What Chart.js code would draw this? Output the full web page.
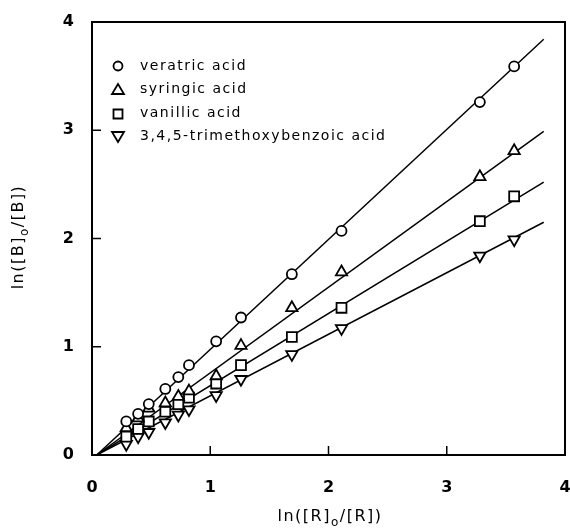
<!DOCTYPE html>
<html>
<head>
<meta charset="utf-8">
<script src="https://cdn.jsdelivr.net/npm/chart.js@4"></script>
<style>
  html, body { margin: 0; padding: 0; background: #fff; }
  #wrap { width: 570px; height: 531px; }
</style>
</head>
<body>
<div id="wrap"><canvas id="chartContainer" width="570" height="531"></canvas></div>
<script>
// values
const xValues = [0.29, 0.39, 0.48, 0.62, 0.73, 0.82, 1.05, 1.26, 1.69, 2.11, 3.28, 3.57];
const veratric = [0.31, 0.38, 0.47, 0.61, 0.72, 0.83, 1.05, 1.27, 1.67, 2.07, 3.26, 3.59];
const syringic = [0.25, 0.34, 0.43, 0.48, 0.54, 0.59, 0.73, 1.01, 1.36, 1.69, 2.57, 2.81];
const vanillic = [0.17, 0.24, 0.31, 0.40, 0.47, 0.53, 0.66, 0.83, 1.09, 1.36, 2.16, 2.39];
const trimethoxy = [0.10, 0.17, 0.21, 0.30, 0.37, 0.42, 0.55, 0.70, 0.93, 1.17, 1.84, 1.99];

// fitted lines (start / end)
const fitX = [0.04, 3.82];
const fitVeratric = [0, 3.84];
const fitSyringic = [0, 2.99];
const fitVanillic = [0, 2.52];
const fitTrimethoxy = [0, 2.15];

const seriesNames = ["veratric acid", "syringic acid", "vanillic acid", "3,4,5-trimethoxybenzoic acid"];
const xTicks = [0, 1, 2, 3, 4];
const yTicks = [0, 1, 2, 3, 4];

const toPoints = (xs, ys) => xs.map((x, i) => ({ x: x, y: ys[i] }));

const markers = [
  { style: "circle", radius: 5, rotation: 0 },
  { style: "triangle", radius: 6.5, rotation: 0 },
  { style: "rect", radius: 7, rotation: 0 },
  { style: "triangle", radius: 6.5, rotation: 180 }
];

const seriesValues = [veratric, syringic, vanillic, trimethoxy];
const fitValues = [fitVeratric, fitSyringic, fitVanillic, fitTrimethoxy];

const datasets = [];
seriesValues.forEach((vals, i) => {
  datasets.push({
    label: seriesNames[i],
    data: toPoints(xValues, vals),
    showLine: false,
    pointStyle: markers[i].style,
    pointRadius: markers[i].radius,
    pointRotation: markers[i].rotation,
    pointBackgroundColor: "#fff",
    pointBorderColor: "#000",
    pointBorderWidth: 1.8,
    order: 1
  });
});
fitValues.forEach((vals, i) => {
  datasets.push({
    label: "fit " + seriesNames[i],
    data: toPoints(fitX, vals),
    showLine: true,
    borderColor: "#000",
    borderWidth: 1.5,
    pointRadius: 0,
    order: 2
  });
});

Chart.defaults.color = "#000";
Chart.defaults.font.family = "'DejaVu Sans', sans-serif";

// frame, inward ticks, axis titles and legend
const decorations = {
  id: "decorations",
  afterDraw(chart) {
    const ctx = chart.ctx;
    const a = chart.chartArea;
    const sx = chart.scales.x, sy = chart.scales.y;
    ctx.save();
    ctx.strokeStyle = "#000";
    ctx.lineWidth = 2;
    ctx.strokeRect(a.left, a.top, a.right - a.left, a.bottom - a.top);

    ctx.lineWidth = 1.5;
    xTicks.slice(1, -1).forEach(v => {
      const px = sx.getPixelForValue(v);
      ctx.beginPath(); ctx.moveTo(px, a.bottom); ctx.lineTo(px, a.bottom - 9); ctx.stroke();
    });
    yTicks.slice(1, -1).forEach(v => {
      const py = sy.getPixelForValue(v);
      ctx.beginPath(); ctx.moveTo(a.left, py); ctx.lineTo(a.left + 9, py); ctx.stroke();
    });

    // axis titles with subscript o
    const drawTitle = (parts, x, y, rot) => {
      ctx.save();
      ctx.translate(x, y);
      ctx.rotate(rot);
      ctx.letterSpacing = "1.5px";
      ctx.textBaseline = "middle";
      ctx.fillStyle = "#000";
      let total = 0;
      parts.forEach(p => {
        ctx.font = p.sub ? "12px 'DejaVu Sans'" : "16px 'DejaVu Sans'";
        total += ctx.measureText(p.t).width;
      });
      let cx = -total / 2;
      parts.forEach(p => {
        ctx.font = p.sub ? "12px 'DejaVu Sans'" : "16px 'DejaVu Sans'";
        ctx.fillText(p.t, cx, p.sub ? 6 : 0);
        cx += ctx.measureText(p.t).width;
      });
      ctx.restore();
    };
    drawTitle([{ t: "ln([R]" }, { t: "o", sub: true }, { t: "/[R])" }], 330, 517, 0);
    drawTitle([{ t: "ln([B]" }, { t: "o", sub: true }, { t: "/[B])" }], 19, 237, -Math.PI / 2);

    // legend
    const lx = 118, ly0 = 66, dy = 23.5;
    seriesNames.forEach((name, i) => {
      const y = ly0 + i * dy;
      ctx.lineWidth = 1.8;
      ctx.beginPath();
      if (i === 0) {
        ctx.arc(lx, y, 4.5, 0, Math.PI * 2);
      } else if (i === 1) {
        ctx.moveTo(lx, y - 5.5); ctx.lineTo(lx + 6, y + 4.5); ctx.lineTo(lx - 6, y + 4.5); ctx.closePath();
      } else if (i === 2) {
        ctx.rect(lx - 4.5, y - 3.5, 9, 9);
      } else {
        ctx.moveTo(lx, y + 5.5); ctx.lineTo(lx + 6, y - 4.5); ctx.lineTo(lx - 6, y - 4.5); ctx.closePath();
      }
      ctx.stroke();
      ctx.font = "14px 'DejaVu Sans'";
      ctx.letterSpacing = "1.5px";
      ctx.textBaseline = "middle";
      ctx.fillStyle = "#000";
      ctx.fillText(name, 140, y);
    });
    ctx.restore();
  }
};

const chart = new Chart(document.getElementById("chartContainer"), {
  type: "scatter",
  data: { datasets: datasets },
  options: {
    responsive: false,
    animation: false,
    events: [],
    layout: { autoPadding: false, padding: { left: 0, right: 5, top: 22, bottom: 0 } },
    plugins: { legend: { display: false }, tooltip: { enabled: false } },
    scales: {
      x: {
        type: "linear",
        min: 0, max: 4,
        grid: { display: false },
        border: { display: false },
        afterBuildTicks: s => { s.ticks = xTicks.map(v => ({ value: v })); },
        afterFit: s => { s.height = 76; s.paddingLeft = 0; s.paddingRight = 0; },
        ticks: { padding: 15, font: { size: 16, weight: "bold" } }
      },
      y: {
        type: "linear",
        min: 0, max: 4,
        grid: { display: false },
        border: { display: false },
        afterBuildTicks: s => { s.ticks = yTicks.map(v => ({ value: v })); },
        afterFit: s => { s.width = 92; s.paddingTop = 0; s.paddingBottom = 0; },
        ticks: { padding: 10, font: { size: 16, weight: "bold" } }
      }
    }
  },
  plugins: [decorations]
});
</script>
</body>
</html>
